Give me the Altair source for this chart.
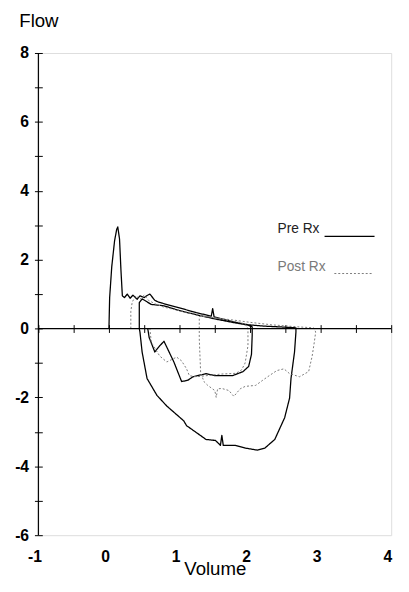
import altair as alt
import pandas as pd

# ---------------- data ----------------
series_names = ["Pre Rx", "Post Rx"]

# Pre Rx (solid): expiration 1 -> large inspiratory loop -> expiration 2 -> small inspiratory loop
pre_vol = [0.00, 0.01, 0.04, 0.08, 0.11, 0.125, 0.15, 0.17, 0.19, 0.22, 0.26, 0.30, 0.34, 0.40, 0.44,
           0.50, 0.54, 0.58, 0.65, 0.70, 0.75, 0.85, 1.00, 1.24, 1.45, 1.47, 1.49, 1.75, 1.97, 2.20,
           2.50, 2.65, 2.65, 2.63, 2.58, 2.56, 2.49, 2.35, 2.21, 2.10, 1.93, 1.79, 1.62, 1.60, 1.58,
           1.51, 1.375, 1.28, 1.10, 1.06, 0.82, 0.68, 0.54, 0.47, 0.44, 0.43, 0.43, 0.47, 0.52, 0.60,
           0.78, 1.00, 1.24, 1.50, 1.75, 1.97, 2.03, 2.03, 2.02, 1.98, 1.90, 1.75, 1.51, 1.375, 1.19,
           1.12, 1.03, 0.92, 0.78, 0.72, 0.65, 0.57, 0.55]
pre_flow = [0.00, 0.90, 1.80, 2.55, 2.88, 2.95, 2.60, 1.70, 0.95, 0.90, 1.00, 0.88, 0.97, 0.85, 0.95,
            0.90, 0.96, 1.00, 0.82, 0.77, 0.74, 0.68, 0.60, 0.46, 0.36, 0.58, 0.34, 0.20, 0.11, 0.07,
            0.04, 0.02, -0.10, -0.68, -1.45, -2.02, -2.59, -3.22, -3.47, -3.53, -3.47, -3.39, -3.39, -3.10, -3.39,
            -3.25, -3.22, -3.08, -2.82, -2.68, -2.25, -1.94, -1.45, -0.68, -0.11, 0.00, 0.75, 0.86, 0.80, 0.70,
            0.66, 0.52, 0.40, 0.28, 0.18, 0.10, 0.05, -0.20, -0.75, -1.10, -1.25, -1.37, -1.37, -1.31, -1.40,
            -1.50, -1.54, -0.97, -0.37, -0.50, -0.68, -0.26, 0.00]

# Post Rx (dotted): expiration 1 -> inspiratory loop, expiration 2 -> inspiratory loop
post1_vol = [0.31, 0.31, 0.33, 0.38, 0.44, 0.50, 0.56, 0.65, 0.78, 1.00, 1.24, 1.50, 1.75, 2.00, 2.30,
             2.60, 2.90, 2.93, 2.91, 2.88, 2.83, 2.70, 2.56, 2.48, 2.38, 2.27, 2.18, 2.08, 1.93, 1.86,
             1.77, 1.70, 1.60, 1.54, 1.52, 1.50, 1.40, 1.35, 1.30, 1.29, 1.28, 1.28]
post1_flow = [0.00, 0.50, 0.77, 0.95, 0.85, 0.97, 0.82, 0.72, 0.62, 0.52, 0.40, 0.31, 0.25, 0.18, 0.11,
              0.06, 0.02, -0.10, -0.40, -0.80, -1.25, -1.40, -1.31, -1.17, -1.22, -1.37, -1.50, -1.65, -1.68, -1.75,
              -1.97, -1.80, -1.74, -1.75, -2.00, -1.80, -1.65, -1.55, -1.30, -0.80, -0.30, 0.00]

post2_vol = [1.28, 1.28, 1.40, 1.60, 1.80, 1.90, 1.95, 1.97, 1.97, 1.93, 1.88, 1.80, 1.60, 1.375, 1.24,
             1.14, 1.10, 1.03, 0.96, 0.89, 0.82, 0.72, 0.60, 0.58]
post2_flow = [0.00, 0.35, 0.35, 0.27, 0.20, 0.15, 0.08, 0.00, -0.50, -1.00, -1.20, -1.30, -1.32, -1.37, -1.40,
              -1.37, -1.17, -0.94, -0.83, -0.90, -0.97, -0.80, -0.40, 0.00]

x_tick_values = [-1, -0.5, 0, 0.5, 1, 1.5, 2, 2.5, 3, 3.5, 4]
x_label_values = [-1, 0, 1, 2, 3, 4]
y_tick_values = [-6, -5, -4, -3, -2, -1, 0, 1, 2, 3, 4, 5, 6, 7, 8]
x_domain = [-1, 4]
y_domain = [-6, 8]

# ---------------- build table ----------------
rows = []
for seg, ser, xs, ys in [("pre", "Pre Rx", pre_vol, pre_flow),
                         ("post1", "Post Rx", post1_vol, post1_flow),
                         ("post2", "Post Rx", post2_vol, post2_flow)]:
    for i, (v, f) in enumerate(zip(xs, ys)):
        rows.append({"segment": seg, "series": ser, "idx": i, "volume": v, "flow": f})
df = pd.DataFrame(rows)

W, H = 360, 492
y0_px = H * (y_domain[1] - 0) / (y_domain[1] - y_domain[0])

FONT = "Liberation Sans"

y_axis = alt.Axis(orient="left", values=y_tick_values,
                  labelExpr="datum.value % 2 == 0 ? '' + datum.value : ''",
                  offset=-4, tickSize=8, tickColor="black", domain=False, grid=False,
                  labelPadding=6, labelFontSize=16, labelFontWeight="bold", labelColor="black",
                  labelFont=FONT, title="Flow", titleAngle=0, titleX=-24, titleY=-33,
                  titleAlign="left", titleBaseline="middle", titleFontSize=19,
                  titleFontWeight="normal", titleColor="black", titleFont=FONT)
y_scale = alt.Scale(domain=y_domain, nice=False, zero=False)
x_scale = alt.Scale(domain=x_domain, nice=False, zero=False)

lines = alt.Chart(df).mark_line(strokeJoin="round").encode(
    x=alt.X("volume:Q", scale=x_scale,
            axis=alt.Axis(orient="bottom", values=x_label_values,
                          labelExpr="'' + datum.value",
                          domain=False, ticks=False, tickSize=0, grid=False,
                          labelPadding=14, labelFontSize=16, labelFontWeight="bold",
                          labelColor="black", labelFont=FONT, labelOffset=-4, labelFlush=False,
                          title="Volume", titleFontSize=19, titleFontWeight="normal",
                          titleColor="black", titleFont=FONT, titlePadding=-5)),
    y=alt.Y("flow:Q", scale=y_scale, axis=y_axis),
    detail="segment:N",
    order="idx:Q",
    color=alt.Color("series:N", scale=alt.Scale(domain=series_names, range=["#000000", "#7a7a7a"]), legend=None),
    strokeDash=alt.StrokeDash("series:N", scale=alt.Scale(domain=series_names, range=[[1, 0], [2, 2]]), legend=None),
    strokeWidth=alt.StrokeWidth("series:N", scale=alt.Scale(domain=series_names, range=[1.3, 1.0]), legend=None),
)

# x axis line at flow = 0, with ticks crossing it
x_line = alt.Chart(pd.DataFrame({"a": [0]})).mark_rule(color="black", strokeWidth=1.2).encode(
    x=alt.X(datum=x_domain[0], scale=x_scale,
            axis=alt.Axis(orient="top", offset=-(y0_px + 4), values=x_tick_values, labels=False,
                          domain=False, tickSize=8, tickColor="black", grid=False, title=None)),
    x2=alt.X2(datum=x_domain[1]),
    y=alt.Y(datum=0, scale=y_scale, axis=y_axis),
)

# y axis line at volume = -1
y_line = alt.Chart(pd.DataFrame({"a": [0]})).mark_rule(color="black", strokeWidth=1.2).encode(
    x=alt.X(datum=x_domain[0], scale=x_scale, axis=None),
    y=alt.Y(datum=y_domain[0], scale=y_scale, axis=y_axis),
    y2=alt.Y2(datum=y_domain[1]),
)

# legend (text then a line sample)
leg_df_pre = pd.DataFrame({"name": [series_names[0]]})
leg_df_post = pd.DataFrame({"name": [series_names[1]]})
pre_text = alt.Chart(leg_df_pre).mark_text(align="left", baseline="middle", fontSize=14, font=FONT,
                                           color="#222222").encode(
    x=alt.value(244), y=alt.value(180), text="name:N")
post_text = alt.Chart(leg_df_post).mark_text(align="left", baseline="middle", fontSize=14, font=FONT,
                                             color="#7a7a7a").encode(
    x=alt.value(244), y=alt.value(218), text="name:N")
pre_rule = alt.Chart(leg_df_pre).mark_rule(color="#000000", strokeWidth=1.3).encode(
    x=alt.value(292), x2=alt.value(343), y=alt.value(187))
post_rule = alt.Chart(leg_df_post).mark_rule(color="#7a7a7a", strokeWidth=1.0, strokeDash=[2, 2]).encode(
    x=alt.value(302), x2=alt.value(342), y=alt.value(225))

chart = alt.layer(lines, x_line, y_line, pre_text, post_text, pre_rule, post_rule).resolve_axis(
    x="independent"
).properties(
    width=W, height=H,
    autosize=alt.AutoSizeParams(type="none"),
    padding={"left": 31, "top": 40, "right": 10, "bottom": 50},
).configure_view(stroke=None).configure(font=FONT, background="white")

chart.save("out.html", embed_options={"renderer": "svg", "actions": False})
